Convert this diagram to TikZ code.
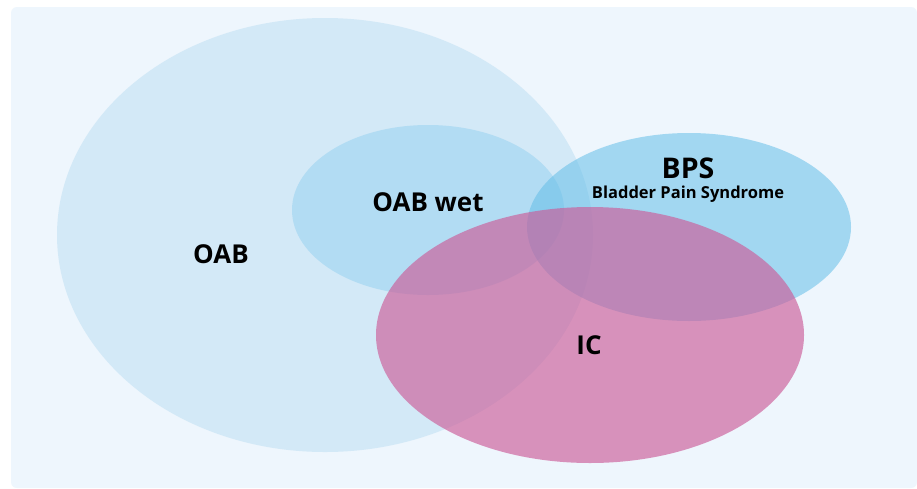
\documentclass[tikz,border=0pt]{standalone}
\usepackage{fontspec}
\setmainfont{Open Sans}
\begin{document}
\begin{tikzpicture}[x=1pt,y=-1pt,
  lbl/.style={font=\bfseries, text=black, inner sep=0pt}]
\definecolor{bgc}{HTML}{EEF6FD}
\definecolor{oabc}{HTML}{D3E9F7}
\definecolor{wetc}{HTML}{B2DCF3}
\definecolor{bpsc}{RGB}{100,190,232}
\definecolor{icc}{RGB}{204,92,152}
\useasboundingbox (0,0) rectangle (917,488);
\fill[white] (0,0) rectangle (917,488);
\fill[bgc, rounded corners=6pt] (11,7) rectangle (917,488);
% sets
\fill[oabc] (325,235) ellipse [x radius=268, y radius=217];
\fill[wetc] (428,210) ellipse [x radius=136, y radius=85];
\fill[bpsc, opacity=0.55] (689,227) ellipse [x radius=162, y radius=94];
\fill[icc, opacity=0.65] (590,335) ellipse [x radius=214, y radius=128];
% labels
\node[lbl, font=\bfseries\fontsize{26}{30}\selectfont] (oab) at (221,254) {OAB};
\node[lbl, font=\bfseries\fontsize{26}{30}\selectfont] (wet) at (428,202) {OAB wet};
\node[lbl, font=\bfseries\fontsize{28.5}{32}\selectfont] (bps) at (688,168) {BPS};
\node[lbl, font=\bfseries\fontsize{16.5}{19}\selectfont] (bpsname) at (688,194) {Bladder Pain Syndrome};
\node[lbl, font=\bfseries\fontsize{26}{30}\selectfont] (ic) at (589,345) {IC};
\end{tikzpicture}
\end{document}
